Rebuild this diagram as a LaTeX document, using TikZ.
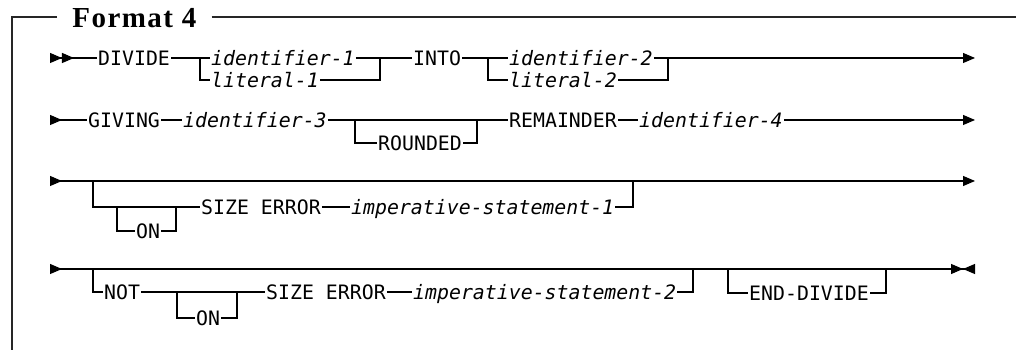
\documentclass[tikz,border=0pt]{standalone}
\usepackage{fontspec}
\newfontfamily\railfont{DejaVu Sans Mono}
\newfontfamily\headfont{Liberation Serif}[LetterSpace=5]
\usetikzlibrary{arrows.meta}

\begin{document}
\begin{tikzpicture}[
  x=0.02cm, y=-0.02cm,
  line width=0.6pt,
  kw/.style={font=\railfont\fontsize{11.3}{13}\selectfont,inner xsep=0.4pt,inner ysep=0pt,
    text height=8.2pt,text depth=0pt,anchor=west},
  var/.style={kw,font=\railfont\itshape\fontsize{11.3}{13}\selectfont},
  frame/.style={line width=0.8pt,black!85},
  heading/.style={font=\headfont\bfseries\fontsize{16.5}{18}\selectfont,inner xsep=8.5pt,inner ysep=0pt,anchor=base west},
  railstart/.style={{Triangle[reversed,length=2.4mm,width=2mm]Triangle[reversed,length=2.4mm,width=2mm]}-},
  railin/.style={{Triangle[reversed,length=2.4mm,width=2mm]}-},
  railout/.style={-{Triangle[length=2.4mm,width=2mm]}},
  railinout/.style={{Triangle[reversed,length=2.4mm,width=2mm]}-{Triangle[length=2.4mm,width=2mm]}},
  railend/.style={{Triangle[reversed,length=2.4mm,width=2mm]}-{Triangle[length=2.4mm,width=2mm]Triangle[reversed,length=2.4mm,width=2mm]}}
]
\useasboundingbox (0,0) rectangle (1016,350);

% frame and title
\node[heading] (title) at (57,27.5) {Format 4};
\coordinate (fl) at (12,17);
\coordinate (fb) at (12,350);
\coordinate (fr) at (1016,17);
\draw[frame] (title.west |- fl) -- (fl) -- (fb);
\draw[frame] (title.east |- fr) -- (fr);

% row 1
\coordinate (s1) at (50,58);
\node[kw] (divide) at (97,58) {DIVIDE};
\coordinate (a1) at (200,58);
\node[var] (id1) at (210,58) {identifier-1};
\node[var] (lit1) at (210,80) {literal-1};
\coordinate (b1) at (380,58);
\node[kw] (into) at (412,58) {INTO};
\coordinate (a2) at (488,58);
\node[var] (id2) at (508,58) {identifier-2};
\node[var] (lit2) at (508,80) {literal-2};
\coordinate (b2) at (668,58);
\coordinate (e1) at (975,58);
\draw[railstart] (s1) -- (divide);
\draw (divide) -- (a1) -- (id1) -- (b1) -- (into) -- (a2) -- (id2) -- (b2);
\draw (a1) |- (lit1) -| (b1);
\draw (a2) |- (lit2) -| (b2);
\draw[railout] (b2) -- (e1);

% row 2
\coordinate (s2) at (50,120);
\node[kw] (giving) at (87,120) {GIVING};
\node[var] (id3) at (182,120) {identifier-3};
\coordinate (a3) at (355,120);
\node[kw] (rounded) at (377,143) {ROUNDED};
\coordinate (b3) at (477,120);
\node[kw] (remainder) at (508,120) {REMAINDER};
\node[var] (id4) at (638,120) {identifier-4};
\coordinate (e2) at (975,120);
\draw[railin] (s2) -- (giving);
\draw (giving) -- (id3) -- (a3) -- (b3) -- (remainder) -- (id4);
\draw (a3) |- (rounded) -| (b3);
\draw[railout] (id4) -- (e2);

% row 3
\coordinate (s3) at (50,181);
\coordinate (a4) at (93,181);
\coordinate (c4) at (117,207);
\node[kw] (on1) at (135,231) {ON};
\coordinate (d4) at (176,207);
\node[kw] (size1) at (200,207) {SIZE ERROR};
\node[var] (imp1) at (350,207) {imperative-statement-1};
\coordinate (b4) at (633,181);
\coordinate (e3) at (975,181);
\draw[railinout] (s3) -- (e3);
\draw (a4) |- (c4) -- (d4) -- (size1) -- (imp1) -| (b4);
\draw (c4) |- (on1) -| (d4);

% row 4
\coordinate (s4) at (50,269);
\coordinate (a5) at (93,269);
\node[kw] (not) at (103,292) {NOT};
\coordinate (c5) at (177,292);
\node[kw] (on2) at (195,318) {ON};
\coordinate (d5) at (237,292);
\node[kw] (size2) at (265,292) {SIZE ERROR};
\node[var] (imp2) at (412,292) {imperative-statement-2};
\coordinate (b5) at (693,269);
\coordinate (a6) at (728,269);
\node[kw] (enddiv) at (748,293) {END-DIVIDE};
\coordinate (b6) at (886,269);
\coordinate (e4) at (975,269);
\draw[railend] (s4) -- (e4);
\draw (a5) |- (not) -- (c5) -- (d5) -- (size2) -- (imp2) -| (b5);
\draw (c5) |- (on2) -| (d5);
\draw (a6) |- (enddiv) -| (b6);
\end{tikzpicture}
\end{document}
